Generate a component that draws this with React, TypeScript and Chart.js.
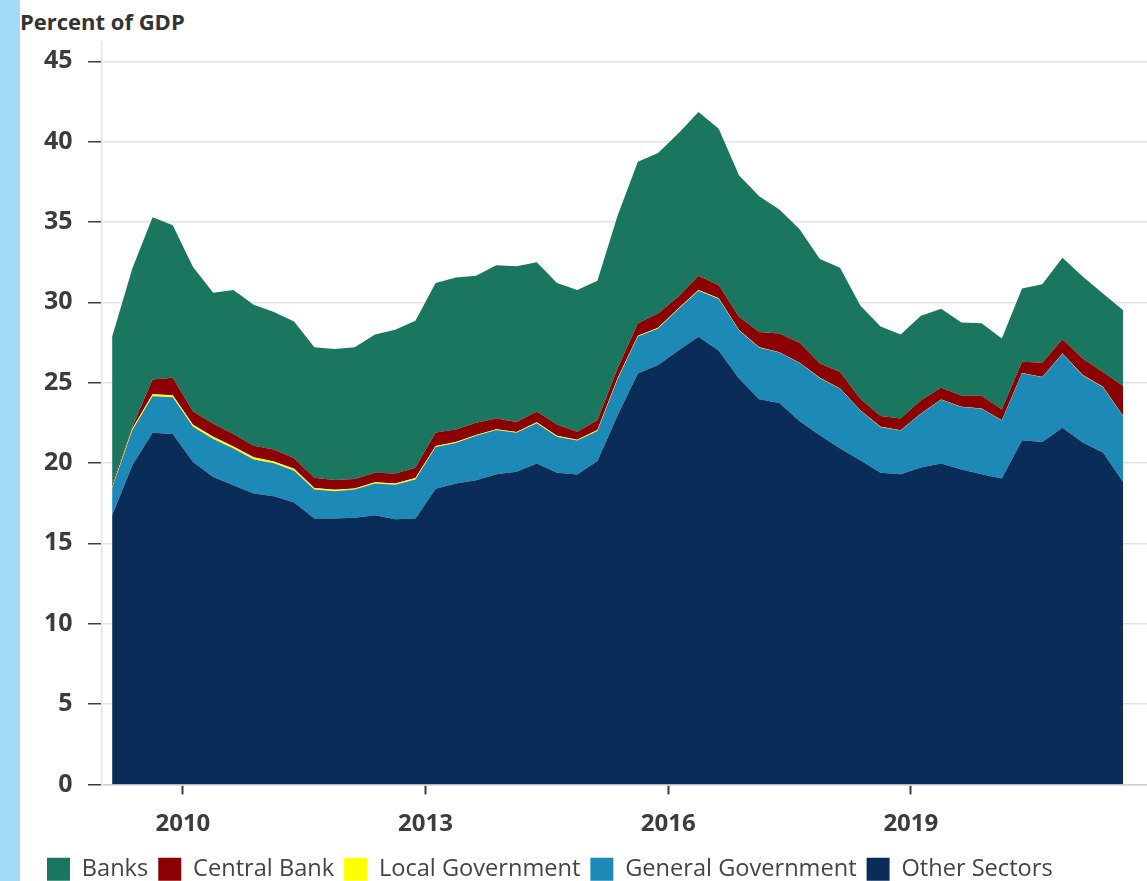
import React, { useEffect, useRef } from "react";
import { Chart, registerables } from "chart.js";

Chart.register(...registerables);

// Quarterly observations, 2009Q1 – 2021Q3
const quarters: string[] = Array.from({ length: 51 }, (_, i) => `${2009 + Math.floor(i / 4)}Q${(i % 4) + 1}`);

const otherSectors = [
  16.75, 19.86, 21.88, 21.8, 20.07, 19.13, 18.62, 18.1, 17.93, 17.54,
  16.54, 16.54, 16.6, 16.75, 16.5, 16.55, 18.4, 18.72, 18.93, 19.3,
  19.45, 19.97, 19.4, 19.28, 20.13, 22.98, 25.57, 26.1, 27.0, 27.85,
  26.98, 25.26, 23.97, 23.74, 22.6, 21.73, 20.9, 20.17, 19.4, 19.3,
  19.72, 19.97, 19.6, 19.3, 19.03, 21.42, 21.31, 22.2, 21.27, 20.65,
  18.82,
];
const generalGovernment = [
  1.7, 2.18, 2.27, 2.3, 2.18, 2.37, 2.28, 2.12, 2.05, 1.98,
  1.81, 1.71, 1.75, 1.97, 2.15, 2.43, 2.6, 2.53, 2.77, 2.75,
  2.43, 2.51, 2.24, 2.12, 1.87, 2.24, 2.3, 2.27, 2.57, 2.87,
  3.22, 2.99, 3.2, 3.14, 3.62, 3.55, 3.72, 3.1, 2.83, 2.72,
  3.34, 3.96, 3.88, 4.08, 3.61, 4.16, 4.03, 4.6, 4.18, 4.07,
  4.09,
];
const localGovernment = [
  0.05, 0.11, 0.13, 0.12, 0.13, 0.14, 0.13, 0.14, 0.12, 0.13,
  0.1, 0.08, 0.07, 0.08, 0.07, 0.08, 0.06, 0.05, 0.05, 0.05,
  0.05, 0.05, 0.05, 0.05, 0.05, 0.05, 0.05, 0.05, 0.05, 0.05,
  0.05, 0.03, 0.03, 0.02, 0.02, 0.02, 0.02, 0.02, 0.02, 0.02,
  0.02, 0.02, 0.02, 0.02, 0.02, 0.02, 0.02, 0.02, 0.02, 0.02,
  0.02,
];
const centralBank = [
  0.18, 0.1, 0.92, 1.08, 0.82, 0.81, 0.77, 0.71, 0.74, 0.65,
  0.63, 0.62, 0.58, 0.6, 0.63, 0.64, 0.84, 0.78, 0.75, 0.67,
  0.63, 0.67, 0.71, 0.49, 0.61, 0.63, 0.78, 0.88, 0.73, 0.88,
  0.82, 0.82, 0.96, 1.16, 1.24, 0.9, 1.03, 0.71, 0.68, 0.73,
  0.82, 0.73, 0.7, 0.78, 0.67, 0.7, 0.88, 0.88, 1.03, 0.93,
  1.87,
];
const banks = [
  9.17, 9.85, 10.1, 9.5, 9.0, 8.15, 8.96, 8.78, 8.56, 8.5,
  8.12, 8.15, 8.2, 8.6, 8.95, 9.15, 9.3, 9.47, 9.15, 9.53,
  9.69, 9.3, 8.8, 8.82, 8.68, 9.5, 10.05, 10.0, 10.15, 10.2,
  9.73, 8.8, 8.44, 7.72, 7.07, 6.5, 6.48, 5.8, 5.57, 5.23,
  5.26, 4.92, 4.55, 4.51, 4.42, 4.56, 4.89, 5.07, 5.1, 4.88,
  4.7,
];

const xTickYears = [2010, 2013, 2016, 2019];
const yTickValues = [0, 5, 10, 15, 20, 25, 30, 35, 40, 45];

const seriesNames = ["Other Sectors", "General Government", "Local Government", "Central Bank", "Banks"];
const seriesColors = ["#0a2c58", "#1d89b6", "#ffff00", "#8b0000", "#1b7660"];

const FONT = "'Open Sans', 'Noto Sans', sans-serif";

function quarterToX(q: string): number {
  const year = parseInt(q.slice(0, 4), 10);
  const qq = parseInt(q.slice(5), 10);
  return year + (qq - 0.5) / 4;
}

export default function App() {
  const canvasRef = useRef<HTMLCanvasElement | null>(null);

  useEffect(() => {
    const canvas = canvasRef.current;
    if (!canvas) return;
    const seriesValues = [otherSectors, generalGovernment, localGovernment, centralBank, banks];
    const datasets = seriesValues.map((vals, k) => ({
      label: seriesNames[k],
      data: vals.map((v, i) => ({ x: quarterToX(quarters[i]), y: v })),
      backgroundColor: seriesColors[k],
      borderColor: seriesColors[k],
      borderWidth: 0,
      pointRadius: 0,
      tension: 0,
      fill: k === 0 ? "origin" : "-1",
    }));

    const chart = new Chart(canvas, {
      type: "line",
      data: { datasets: datasets as any },
      options: {
        animation: false,
        responsive: false,
        maintainAspectRatio: false,
        layout: { padding: { left: 37, right: 0, top: 42, bottom: 0 } },
        plugins: {
          legend: {
            position: "bottom",
            align: "start",
            labels: {
              boxWidth: 23,
              boxHeight: 23,
              padding: 10,
              color: "#444444",
              font: { family: FONT, size: 23.6 },
              sort: (a: any, b: any) => b.datasetIndex - a.datasetIndex,
            },
          },
          tooltip: { enabled: false },
          title: { display: false },
        },
        scales: {
          x: {
            type: "linear",
            min: 2009,
            max: 2021.92,
            afterBuildTicks: (scale: any) => {
              scale.ticks = xTickYears.map((v) => ({ value: v }));
            },
            afterFit: (scale: any) => {
              scale.height = 63;
            },
            ticks: {
              callback: (v: any) => String(v),
              color: "#3c3c3c",
              font: { family: FONT, size: 24, weight: "bold" },
              padding: 15,
              maxRotation: 0,
            },
            grid: {
              drawOnChartArea: false,
              drawTicks: true,
              tickLength: 10,
              tickColor: "#3c3c3c",
              tickWidth: 2,
            },
            border: { display: true, color: "#cfcfcf", width: 1.5 },
          },
          y: {
            type: "linear",
            stacked: true,
            min: 0,
            max: 46.2,
            afterBuildTicks: (scale: any) => {
              scale.ticks = yTickValues.map((v) => ({ value: v }));
            },
            afterFit: (scale: any) => {
              scale.width = 65;
            },
            ticks: {
              color: "#3c3c3c",
              font: { family: FONT, size: 25, weight: "bold" },
              padding: 15.5,
            },
            grid: {
              color: "#e3e3e3",
              lineWidth: 1.5,
              drawTicks: true,
              tickLength: 14,
              tickColor: "#3c3c3c",
              tickWidth: 1.5,
            },
            border: { display: true, color: "#e6e6e6", width: 1.5 },
          },
        },
      } as any,
    });
    return () => chart.destroy();
  }, []);

  return (
    <div style={{ position: "absolute", left: 0, top: 0, width: 1147, height: 881, overflow: "hidden", background: "#ffffff" }}>
      <div style={{ position: "absolute", left: 0, top: 0, width: 20, height: 881, background: "#a3dbf6" }} />
      <div
        style={{
          position: "absolute",
          left: 20,
          top: 6,
          fontFamily: FONT,
          fontWeight: 700,
          fontSize: 22,
          color: "#333333",
          whiteSpace: "nowrap",
        }}
      >
        Percent of GDP
      </div>
      <canvas ref={canvasRef} width={1147} height={891} style={{ position: "absolute", left: 0, top: 0, width: 1147, height: 891 }} />
    </div>
  );
}
